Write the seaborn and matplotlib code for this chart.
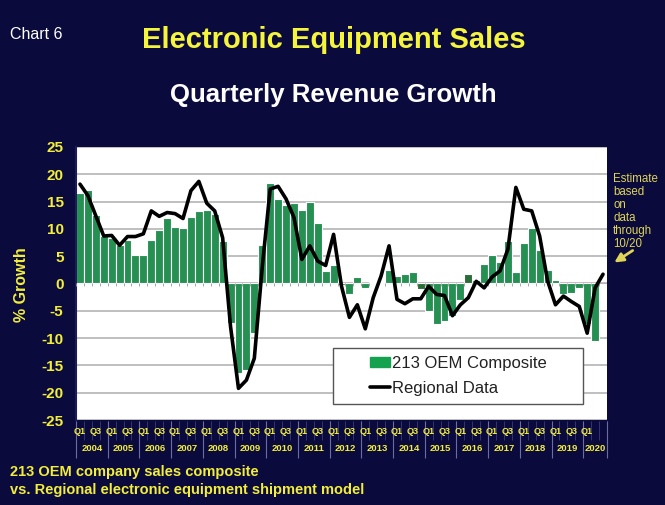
import matplotlib
matplotlib.use("Agg")
import matplotlib.pyplot as plt
import matplotlib.transforms as mtransforms
import numpy as np
import pandas as pd
import seaborn as sns
from matplotlib.lines import Line2D
from matplotlib.patches import FancyArrowPatch, Patch, Rectangle

YEARS = list(range(2004, 2021))
QUARTERS = [f"{y}Q{q}" for y in YEARS for q in (1, 2, 3, 4)][:67]

# 213 OEM composite, 2004Q1 .. 2020Q2
OEM_COMPOSITE = [
    16.6, 17.1, 12.6, 8.7,
    8.3, 7.0, 7.9, 5.2,
    5.3, 8.0, 9.8, 12.0,
    10.4, 10.1, 12.1, 13.3,
    13.4, 12.7, 7.8, -7.2,
    -16.4, -15.8, -9.1, 7.1,
    18.4, 15.5, 14.4, 14.7,
    13.5, 15.0, 11.0, 2.3,
    3.3, -0.2, -1.9, 1.2,
    -0.8, 0.2, 0.3, 2.4,
    1.4, 1.8, 2.1, -1.0,
    -5.1, -7.5, -6.9, -6.0,
    -3.1, 1.7, 0.6, 3.5,
    5.3, 4.0, 7.7, 2.1,
    7.5, 10.1, 6.1, 2.4,
    0.7, -2.0, -1.7, -0.8,
    -7.4, -10.6,
]

# regional shipment model, 2004Q1 .. 2020Q3
REGIONAL_DATA = [
    18.2, 16.1, 12.4, 8.7,
    8.8, 7.0, 8.6, 8.6,
    9.1, 13.3, 12.3, 13.0,
    12.8, 11.9, 17.0, 18.7,
    14.7, 13.3, 8.4, -7.9,
    -19.2, -17.7, -13.7, 3.0,
    17.3, 17.8, 15.5, 12.1,
    4.4, 6.9, 4.1, 3.3,
    9.0, -0.5, -6.2, -3.9,
    -8.3, -2.6, 1.4, 6.9,
    -2.9, -3.7, -2.8, -2.8,
    -0.5, -2.0, -2.2, -5.9,
    -3.9, -2.6, 0.4, -0.8,
    1.2, 2.3, 6.3, 17.6,
    13.6, 13.3, 8.7, 0.5,
    -3.9, -2.3, -3.3, -4.2,
    -9.1, -0.8, 1.7,
]

DARK_BARS = ["2014Q4", "2016Q2"]

NAVY = "#0a0a3c"
YELLOW = "#f2ee3a"
NOTE_YELLOW = "#ddd458"
GREEN = "#14a24f"
DARK_GREEN = "#1d7a30"

W, H = 665, 505


def build_frame():
    df = pd.DataFrame({
        "quarter": QUARTERS,
        "oem": OEM_COMPOSITE + [np.nan] * (len(QUARTERS) - len(OEM_COMPOSITE)),
        "regional": REGIONAL_DATA,
    })
    df["year"] = df["quarter"].str[:4]
    df["qtr"] = df["quarter"].str[4:]
    df["shade"] = np.where(df["quarter"].isin(DARK_BARS), "dark", "normal")
    df["pos"] = np.arange(len(df))
    return df


def main():
    df = build_frame()
    sns.set_theme(style="white")
    plt.rcParams["font.family"] = ["Liberation Sans", "DejaVu Sans"]
    plt.rcParams["axes.unicode_minus"] = False

    fig = plt.figure(figsize=(W / 100, H / 100), dpi=100, facecolor=NAVY)
    ax = fig.add_axes([76 / W, 1 - 420 / H, 531 / W, 273 / H])
    ax.set_facecolor("white")

    sns.barplot(
        data=df, x="quarter", y="oem", hue="shade", order=QUARTERS,
        hue_order=["normal", "dark"], palette={"normal": GREEN, "dark": DARK_GREEN},
        dodge=False, width=1.0, edgecolor="white", linewidth=0.8,
        legend=False, ax=ax, zorder=2,
    )
    sns.lineplot(x=df["pos"], y=df["regional"], color="black", linewidth=2.6,
                 sort=False, ax=ax, zorder=4)

    n = len(df)
    ax.set_xlim(-0.5, n - 0.5)
    ax.set_ylim(-25, 25)
    ax.set_yticks(range(-25, 26, 5))
    ax.set_xticks([])
    ax.set_xlabel("")
    ax.set_ylabel("")
    ax.grid(axis="y", color="#b4b4b4", linewidth=1.2)
    ax.set_axisbelow(True)
    ax.tick_params(axis="y", length=0, pad=9, labelsize=11, labelcolor=YELLOW)
    for lab in ax.get_yticklabels():
        lab.set_fontweight("bold")
    for side in ["top", "right", "bottom"]:
        ax.spines[side].set_visible(False)
    ax.spines["left"].set_color("#1c1c5a")
    ax.spines["left"].set_linewidth(1.5)

    # category ticks along the zero line
    ax.vlines(np.arange(n + 1) - 0.5, -0.5, 0, color="#9a9a9a", linewidth=0.6, zorder=3)
    ax.axhline(0, color="#b4b4b4", linewidth=0.8, zorder=1)

    # two-level category axis below the plot (estimate quarter left unlabelled)
    trans = mtransforms.blended_transform_factory(ax.transData, ax.transAxes)
    for pos, qtr, oem in zip(df["pos"], df["qtr"], df["oem"]):
        if qtr in ("Q1", "Q3") and not np.isnan(oem):
            ax.text(pos, -0.041, qtr, transform=trans, ha="center", va="center",
                    fontsize=6.5, fontweight="bold", color=YELLOW, clip_on=False)
    ax.vlines(np.arange(n + 1) - 0.5, -0.075, -0.005, transform=trans,
              color="#3a3a78", linewidth=0.6, clip_on=False)
    groups = df.groupby("year")["pos"]
    for year, pos in groups:
        ax.text(pos.mean(), -0.104, year, transform=trans, ha="center", va="center",
                fontsize=6.8, fontweight="bold", color=YELLOW, clip_on=False)
    bounds = list(groups.min() - 0.5) + [n - 0.5]
    ax.vlines(bounds, -0.14, -0.005, transform=trans, color="#6c6ca0",
              linewidth=0.8, clip_on=False)

    # legend box
    ax.add_patch(Rectangle((0.484, 0.059), 0.471, 0.205, transform=ax.transAxes,
                           facecolor="white", edgecolor="#555555", linewidth=1.0, zorder=5))
    handles = [
        Patch(facecolor=GREEN, edgecolor=GREEN, label="213 OEM Composite"),
        Line2D([], [], color="black", linewidth=2.6, label="Regional Data"),
    ]
    leg = ax.legend(handles=handles, loc="center", bbox_to_anchor=(0.72, 0.162),
                    frameon=False, fontsize=12, handlelength=1.2, handleheight=0.55,
                    handletextpad=0.15, labelspacing=0.62)
    leg.set_zorder(6)
    for t in leg.get_texts():
        t.set_color("#222222")

    # titles and notes
    fig.text(10 / W, 1 - 34 / H, "Chart 6", color="white", fontsize=11.5,
             ha="left", va="center")
    fig.text(334 / W, 1 - 40 / H, "Electronic Equipment Sales", color="#f5f53c",
             fontsize=21, fontweight="bold", ha="center", va="center")
    fig.text(333 / W, 1 - 95 / H, "Quarterly Revenue Growth", color="white",
             fontsize=18.5, fontweight="bold", ha="center", va="center")
    fig.text(22 / W, 1 - 285 / H, "% Growth", color=YELLOW, fontsize=11.5,
             fontweight="bold", rotation=90, ha="center", va="center")
    fig.text(10 / W, 1 - 481 / H, "213 OEM company sales composite\n"
             "vs. Regional electronic equipment shipment model",
             color=YELLOW, fontsize=10.5, fontweight="bold", ha="left", va="center",
             linespacing=1.4)
    fig.text(613 / W, 1 - 173 / H, "Estimate\nbased\non\ndata\nthrough\n10/20",
             color=NOTE_YELLOW, fontsize=8.3, ha="left", va="top", linespacing=1.1)
    fig.add_artist(FancyArrowPatch(
        (635 / W, 1 - 249 / H), (612 / W, 1 - 264 / H), transform=fig.transFigure,
        arrowstyle="-|>", mutation_scale=13, color=NOTE_YELLOW, linewidth=2.0))

    fig.savefig("out.png", dpi=100, facecolor=NAVY)
    plt.close(fig)


if __name__ == "__main__":
    main()
